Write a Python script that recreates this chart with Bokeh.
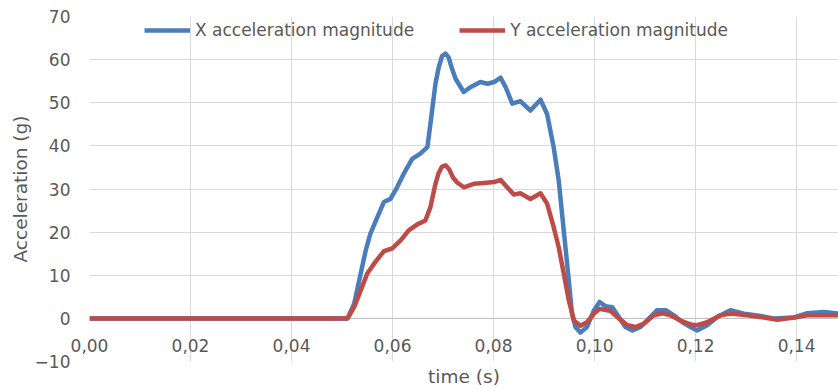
from bokeh.plotting import figure
from bokeh.models import Range1d, FixedTicker, Span, Legend, LegendItem
from bokeh.embed import file_html
from bokeh.resources import INLINE

# ---- data ----
t_x = [0.0, 0.0511, 0.0524, 0.0537, 0.0547, 0.0556, 0.0570, 0.0583, 0.0596, 0.0609,
       0.0622, 0.0639, 0.0655, 0.0669, 0.0675, 0.0685, 0.0691, 0.0698, 0.0705, 0.0711,
       0.0718, 0.0725, 0.0741, 0.0754, 0.0774, 0.0788, 0.0801, 0.0814, 0.0824, 0.0837,
       0.0853, 0.0873, 0.0893, 0.0906, 0.0919, 0.0929, 0.0939, 0.0949, 0.0955, 0.0962,
       0.0972, 0.0985, 0.0999, 0.1010, 0.1022, 0.1035, 0.1048, 0.1061, 0.1075, 0.1091,
       0.1108, 0.1124, 0.1141, 0.1157, 0.1174, 0.1190, 0.1203, 0.1223, 0.1243, 0.1269,
       0.1296, 0.1322, 0.1355, 0.1395, 0.1421, 0.1454, 0.1483]
acc_x = [0, 0, 3.4, 10.4, 15.8, 19.6, 23.5, 27.0, 27.7, 30.4,
         33.5, 37.0, 38.2, 39.7, 45.1, 54.4, 58.0, 60.8, 61.4, 60.5,
         57.8, 55.5, 52.5, 53.6, 54.8, 54.4, 54.8, 55.8, 53.6, 49.8,
         50.4, 48.2, 50.7, 47.4, 39.7, 32.0, 20.4, 8.8, 1.5, -2.0,
         -3.3, -2.0, 1.9, 3.8, 2.8, 2.6, 0.3, -2.0, -2.8, -2.0,
         0.0, 1.9, 1.9, 0.7, -0.9, -2.0, -2.8, -1.6, 0.3, 1.9,
         1.1, 0.7, 0.0, 0.2, 1.2, 1.5, 1.1]

t_y = [0.0, 0.0511, 0.0524, 0.0537, 0.0550, 0.0566, 0.0583, 0.0599, 0.0616, 0.0632,
       0.0649, 0.0665, 0.0675, 0.0685, 0.0691, 0.0698, 0.0705, 0.0712, 0.0720, 0.0728,
       0.0741, 0.0761, 0.0781, 0.0801, 0.0814, 0.0827, 0.0840, 0.0853, 0.0873, 0.0893,
       0.0906, 0.0919, 0.0929, 0.0939, 0.0949, 0.0959, 0.0972, 0.0985, 0.0999, 0.1010,
       0.1032, 0.1048, 0.1065, 0.1081, 0.1098, 0.1117, 0.1134, 0.1150, 0.1170, 0.1190,
       0.1203, 0.1223, 0.1249, 0.1269, 0.1302, 0.1335, 0.1362, 0.1395, 0.1421, 0.1483]
acc_y = [0, 0, 2.6, 6.5, 10.4, 13.1, 15.6, 16.2, 18.1, 20.4,
         21.8, 22.7, 25.8, 31.2, 33.6, 35.2, 35.5, 34.6, 32.6, 31.5,
         30.4, 31.2, 31.4, 31.6, 32.1, 30.4, 28.7, 29.0, 27.7, 29.0,
         26.6, 21.2, 16.5, 10.4, 4.2, -0.5, -1.7, -0.9, 1.1, 2.2,
         1.7, 0.0, -1.6, -2.0, -1.2, 0.7, 1.2, 0.7, -0.5, -1.4,
         -1.6, -0.9, 0.7, 1.1, 0.7, 0.2, -0.3, 0.2, 0.7, 0.7]

x_ticks = [0.00, 0.02, 0.04, 0.06, 0.08, 0.10, 0.12, 0.14]
x_tick_labels = ["0,00", "0,02", "0,04", "0,06", "0,08", "0,10", "0,12", "0,14"]
y_ticks = [-10, 0, 10, 20, 30, 40, 50, 60, 70]

series_names = ["X acceleration magnitude", "Y acceleration magnitude"]
BLUE = "#4a7ebb"
RED = "#be4b48"
TEXT = "#595959"
FONT = "DejaVu Sans"

p = figure(width=838, height=390, output_backend="svg", toolbar_location=None,
           x_range=Range1d(0, 0.1483), y_range=Range1d(-10, 70),
           min_border_left=89, min_border_right=0, min_border_top=16,
           min_border_bottom=29)
p.outline_line_color = None
p.background_fill_color = "white"
p.border_fill_color = "white"

# grids
p.xgrid.ticker = FixedTicker(ticks=x_ticks)
p.ygrid.ticker = FixedTicker(ticks=y_ticks)
p.xgrid.grid_line_color = "#d9d9d9"
p.ygrid.grid_line_color = "#d9d9d9"
p.xgrid.grid_line_width = 1
p.ygrid.grid_line_width = 1

# zero axis line
p.add_layout(Span(location=0, dimension="width", line_color="#bfbfbf",
                  line_width=1, level="underlay"))

# y axis
p.yaxis.ticker = FixedTicker(ticks=y_ticks)
p.yaxis.axis_line_color = None
p.yaxis.major_tick_line_color = None
p.yaxis.minor_tick_line_color = None
p.yaxis.major_tick_in = 0
p.yaxis.major_tick_out = 0
p.yaxis.major_label_standoff = 19
p.yaxis.major_label_text_font = FONT
p.yaxis.major_label_text_font_size = "17px"
p.yaxis.major_label_text_color = TEXT
p.yaxis.axis_label = "Acceleration (g)"
p.yaxis.axis_label_text_font = FONT
p.yaxis.axis_label_text_font_size = "18.5px"
p.yaxis.axis_label_text_font_style = "normal"
p.yaxis.axis_label_text_color = TEXT
p.yaxis.axis_label_standoff = 1

# x axis: tick labels pulled up next to the zero line (axis crossing at 0)
p.xaxis.ticker = FixedTicker(ticks=x_ticks)
p.xaxis.major_label_overrides = dict(zip(x_ticks, x_tick_labels))
p.xaxis.axis_line_color = None
p.xaxis.major_tick_line_color = None
p.xaxis.minor_tick_line_color = None
p.xaxis.major_tick_in = 0
p.xaxis.major_tick_out = 0
p.xaxis.major_label_standoff = -23
p.xaxis.major_label_text_font = FONT
p.xaxis.major_label_text_font_size = "17px"
p.xaxis.major_label_text_color = TEXT
p.xaxis.axis_label = "time (s)"
p.xaxis.axis_label_text_font = FONT
p.xaxis.axis_label_text_font_size = "18.5px"
p.xaxis.axis_label_text_font_style = "normal"
p.xaxis.axis_label_text_color = TEXT
p.xaxis.axis_label_standoff = 11

# series
r_x = p.line(t_x, acc_x, line_color=BLUE, line_width=4.5, line_join="round")
r_y = p.line(t_y, acc_y, line_color=RED, line_width=4.5, line_join="round")

legend = Legend(items=[LegendItem(label=series_names[0], renderers=[r_x]),
                       LegendItem(label=series_names[1], renderers=[r_y])],
                orientation="horizontal", location=(55, 321),
                glyph_width=46, glyph_height=20, label_standoff=5, spacing=45,
                padding=0, margin=0, border_line_color=None,
                background_fill_alpha=0,
                label_text_font=FONT, label_text_font_size="17px",
                label_text_color=TEXT)
p.add_layout(legend)

open("out.html", "w").write(file_html(p, INLINE))
